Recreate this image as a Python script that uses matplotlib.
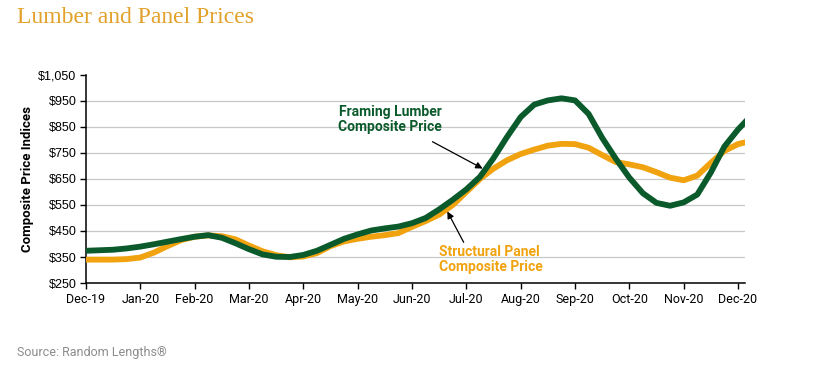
import matplotlib.pyplot as plt
import numpy as np

# values read every quarter month, Dec-19 .. Dec-20 (+ one step past the edge)
lumber = [374, 376, 378, 383, 390, 399, 409, 419, 428, 434, 424, 403, 380,
          360, 351, 350, 358, 374, 397, 420, 437, 452, 460, 467, 480, 500,
          533, 570, 610, 658, 730, 812, 888, 936, 952, 960, 952, 900, 808,
          728, 655, 595, 558, 547, 560, 590, 675, 775, 840, 895]
panel = [340, 340, 340, 342, 348, 367, 392, 415, 428, 433, 430, 418, 394,
         372, 357, 349, 352, 365, 392, 410, 420, 428, 434, 442, 466, 488,
         513, 550, 600, 650, 690, 722, 746, 763, 778, 785, 784, 770, 742,
         715, 706, 695, 676, 655, 645, 663, 712, 758, 784, 797]
months = ["Dec-19", "Jan-20", "Feb-20", "Mar-20", "Apr-20", "May-20", "Jun-20",
          "Jul-20", "Aug-20", "Sep-20", "Oct-20", "Nov-20", "Dec-20"]
x = np.arange(len(lumber)) / 4

green = "#0b5a2b"
orange = "#f0a30f"
narrow = ["Roboto", "DejaVu Sans"]

fig = plt.figure(figsize=(8.13, 3.69), dpi=100)
ax = fig.add_axes([0.1058, 0.233, 0.81, 0.564])

ax.plot(x, panel, color=orange, linewidth=4.2, solid_joinstyle="round",
        solid_capstyle="butt", zorder=3)
ax.plot(x, lumber, color=green, linewidth=4.2, solid_joinstyle="round",
        solid_capstyle="butt", zorder=4)

ax.set_xlim(0, 12.12)
ax.set_ylim(250, 1050)
ax.set_yticks(range(250, 1051, 100))
ax.set_yticklabels(["${:,}".format(v) for v in range(250, 1051, 100)],
                   fontsize=9, family="Liberation Sans")
ax.set_xticks(range(13))
ax.set_xticklabels(months, fontsize=9, family=narrow)
ax.tick_params(axis="both", length=4, width=1, color="black", pad=3)
ax.grid(axis="y", color="#c8c8c8", linewidth=0.9)
ax.yaxis.get_gridlines()[-1].set_visible(False)
ax.spines["top"].set_visible(False)
ax.spines["right"].set_visible(False)
ax.spines["left"].set_linewidth(1.1)
ax.spines["bottom"].set_linewidth(1.1)
ax.set_ylabel("Composite Price Indices", fontsize=9.5, fontweight="bold",
              family=narrow, labelpad=3)

ax.annotate("Framing Lumber\nComposite Price", xy=(7.3, 690), xytext=(5.6, 880),
            color=green, fontsize=10, fontweight="bold", family=narrow,
            ha="center", va="center", linespacing=1.1,
            arrowprops=dict(arrowstyle="-|>", color="black", lw=0.9,
                            shrinkA=8, shrinkB=0, mutation_scale=10))
ax.annotate("Structural Panel\nComposite Price", xy=(6.65, 525), xytext=(6.5, 340),
            color=orange, fontsize=10, fontweight="bold", family=narrow,
            ha="left", va="center", linespacing=1.1,
            arrowprops=dict(arrowstyle="-|>", color="black", lw=0.9,
                            shrinkA=0, shrinkB=0, mutation_scale=10,
                            relpos=(0.25, 1.0)))

fig.text(0.021, 0.952, "Lumber and Panel Prices", fontsize=17,
         family="Liberation Serif", color="#e2a12a", va="center")
fig.text(0.021, 0.045, "Source: Random Lengths\u00ae", fontsize=9,
         family=narrow, color="#8c8c8c", va="center")

fig.savefig("out.png", dpi=100)
